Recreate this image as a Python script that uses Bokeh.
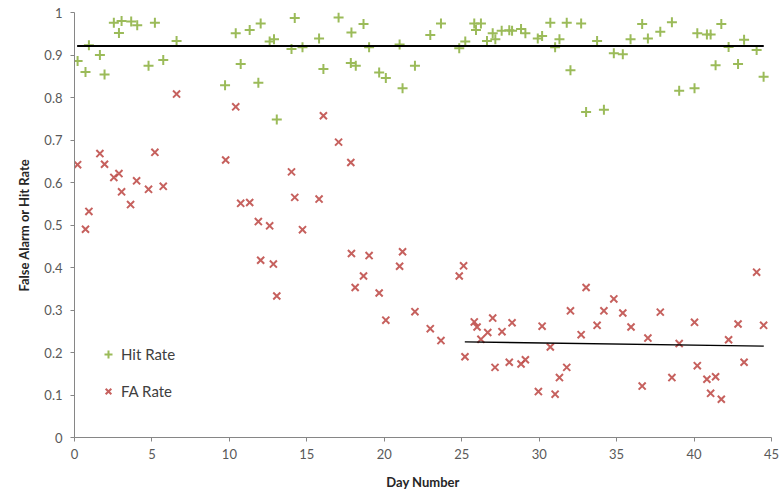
from bokeh.plotting import figure
from bokeh.models import Range1d, Legend, LegendItem, FixedTicker
from bokeh.embed import file_html
from bokeh.resources import INLINE

# ---- data ----
hit_day = [0.20, 0.71, 0.93, 1.64, 1.94, 2.54, 2.87, 3.04, 3.66, 4.05, 4.78, 5.19, 5.73, 6.59,
           9.72, 10.41, 10.73, 11.31, 11.87, 12.02, 12.60, 12.88, 13.06, 14.01, 14.22, 14.72,
           15.79, 16.07, 17.05, 17.84, 17.88, 18.16, 18.66, 19.02, 19.67, 20.10, 20.99, 21.18,
           21.98, 22.97, 23.66, 24.84, 25.23, 25.81, 25.92, 26.24, 26.63, 27.00, 27.17, 27.58,
           28.07, 28.25, 28.83, 29.11, 29.91, 30.19, 30.72, 31.03, 31.31, 31.78, 32.02, 32.71,
           33.03, 33.74, 34.18, 34.82, 35.40, 35.90, 36.65, 37.02, 37.82, 38.57, 39.04, 40.03,
           40.21, 40.83, 41.07, 41.39, 41.76, 42.23, 42.84, 43.23, 44.04, 44.49]
hit_rate = [0.886, 0.860, 0.923, 0.900, 0.854, 0.976, 0.952, 0.980, 0.979, 0.970, 0.875, 0.976, 0.888, 0.933,
            0.829, 0.951, 0.879, 0.959, 0.835, 0.974, 0.932, 0.937, 0.748, 0.914, 0.987, 0.918,
            0.939, 0.867, 0.988, 0.881, 0.953, 0.875, 0.973, 0.918, 0.859, 0.846, 0.925, 0.822,
            0.875, 0.947, 0.974, 0.916, 0.932, 0.974, 0.959, 0.974, 0.933, 0.951, 0.937, 0.957,
            0.958, 0.957, 0.961, 0.951, 0.939, 0.945, 0.976, 0.918, 0.937, 0.976, 0.864, 0.974,
            0.766, 0.933, 0.771, 0.904, 0.902, 0.937, 0.973, 0.939, 0.955, 0.977, 0.816, 0.822,
            0.951, 0.948, 0.948, 0.876, 0.973, 0.919, 0.879, 0.936, 0.912, 0.849]

fa_day = [0.20, 0.71, 0.93, 1.64, 1.94, 2.54, 2.87, 3.04, 3.62, 4.01, 4.78, 5.19, 5.73, 6.59,
          9.76, 10.41, 10.73, 11.31, 11.87, 12.02, 12.60, 12.84, 13.06, 14.01, 14.22, 14.72,
          15.79, 16.07, 17.05, 17.84, 17.88, 18.12, 18.66, 19.02, 19.67, 20.10, 20.99, 21.18,
          21.98, 22.97, 23.66, 24.84, 25.12, 25.21, 25.81, 25.99, 26.24, 26.68, 27.00, 27.15,
          27.60, 28.07, 28.25, 28.83, 29.11, 29.95, 30.19, 30.72, 31.03, 31.31, 31.78, 32.02,
          32.71, 33.03, 33.74, 34.18, 34.82, 35.40, 35.93, 36.65, 37.02, 37.82, 38.57, 39.04,
          40.03, 40.21, 40.83, 41.07, 41.39, 41.76, 42.23, 42.84, 43.23, 44.04, 44.49]
fa_rate = [0.642, 0.490, 0.532, 0.668, 0.643, 0.612, 0.621, 0.578, 0.548, 0.604, 0.584, 0.671, 0.591, 0.808,
           0.653, 0.778, 0.551, 0.553, 0.508, 0.417, 0.498, 0.408, 0.333, 0.625, 0.565, 0.489,
           0.561, 0.757, 0.695, 0.647, 0.433, 0.353, 0.380, 0.428, 0.340, 0.276, 0.403, 0.437,
           0.296, 0.256, 0.228, 0.380, 0.404, 0.190, 0.272, 0.260, 0.231, 0.247, 0.281, 0.165,
           0.249, 0.177, 0.270, 0.173, 0.183, 0.108, 0.262, 0.213, 0.102, 0.141, 0.165, 0.298,
           0.242, 0.353, 0.264, 0.298, 0.326, 0.293, 0.260, 0.121, 0.234, 0.295, 0.141, 0.221,
           0.271, 0.169, 0.137, 0.104, 0.143, 0.090, 0.230, 0.267, 0.177, 0.389, 0.264]

hit_trend_day = [0.17, 44.5]
hit_trend = [0.921, 0.921]
fa_trend_day = [25.2, 44.5]
fa_trend = [0.225, 0.215]

x_ticks = [0, 5, 10, 15, 20, 25, 30, 35, 40, 45]
y_ticks = [0, 0.1, 0.2, 0.3, 0.4, 0.5, 0.6, 0.7, 0.8, 0.9, 1]

FONT = "Lato"
GREEN = "#9BBB59"
RED = "#C0504D"
AXIS_GRAY = "#868686"
LABEL_GRAY = "#595959"

p = figure(width=783, height=493, output_backend="svg", toolbar_location=None,
           x_range=Range1d(0, 45), y_range=Range1d(0, 1),
           min_border_left=74, min_border_right=12, min_border_top=12, min_border_bottom=56)
p.outline_line_color = None
p.xgrid.visible = False
p.ygrid.visible = False
p.background_fill_color = "white"
p.border_fill_color = "white"

r_hit = p.scatter(hit_day, hit_rate, marker="cross", size=10, line_color=GREEN, line_width=2)
r_fa = p.scatter(fa_day, fa_rate, marker="x", size=10, line_color=RED, line_width=2, line_alpha=0.9)
p.line(hit_trend_day, hit_trend, line_color="black", line_width=2)
p.line(fa_trend_day, fa_trend, line_color="black", line_width=1.5)

for ax in (p.xaxis[0], p.yaxis[0]):
    ax.axis_line_color = AXIS_GRAY
    ax.major_tick_line_color = AXIS_GRAY
    ax.minor_tick_line_color = None
    ax.major_tick_in = 0
    ax.major_tick_out = 4
    ax.major_label_text_font = FONT
    ax.major_label_text_font_size = "13px"
    ax.major_label_text_color = LABEL_GRAY
    ax.axis_label_text_font = FONT
    ax.axis_label_text_font_size = "13px"
    ax.axis_label_text_font_style = "bold"
    ax.axis_label_text_color = "#262626"

p.xaxis.ticker = FixedTicker(ticks=x_ticks)
p.yaxis.ticker = FixedTicker(ticks=y_ticks)
p.yaxis.major_label_overrides = {0: "0", 1: "1"}
p.xaxis.axis_label = "Day Number"
p.yaxis.axis_label = "False Alarm or Hit Rate"
p.xaxis.major_label_standoff = 7
p.yaxis.major_label_standoff = 8
p.xaxis.axis_label_standoff = 12
p.yaxis.axis_label_standoff = 9

legend = Legend(items=[LegendItem(label="Hit Rate", renderers=[r_hit]),
                       LegendItem(label="FA Rate", renderers=[r_fa])],
                location=(24, 36), padding=0, margin=0, spacing=17,
                glyph_width=20, glyph_height=20, label_height=20, label_standoff=3,
                label_text_font=FONT, label_text_font_size="15px", label_text_color="#404040",
                border_line_color=None, background_fill_alpha=0)
p.add_layout(legend)

open("out.html", "w").write(file_html(p, INLINE))
